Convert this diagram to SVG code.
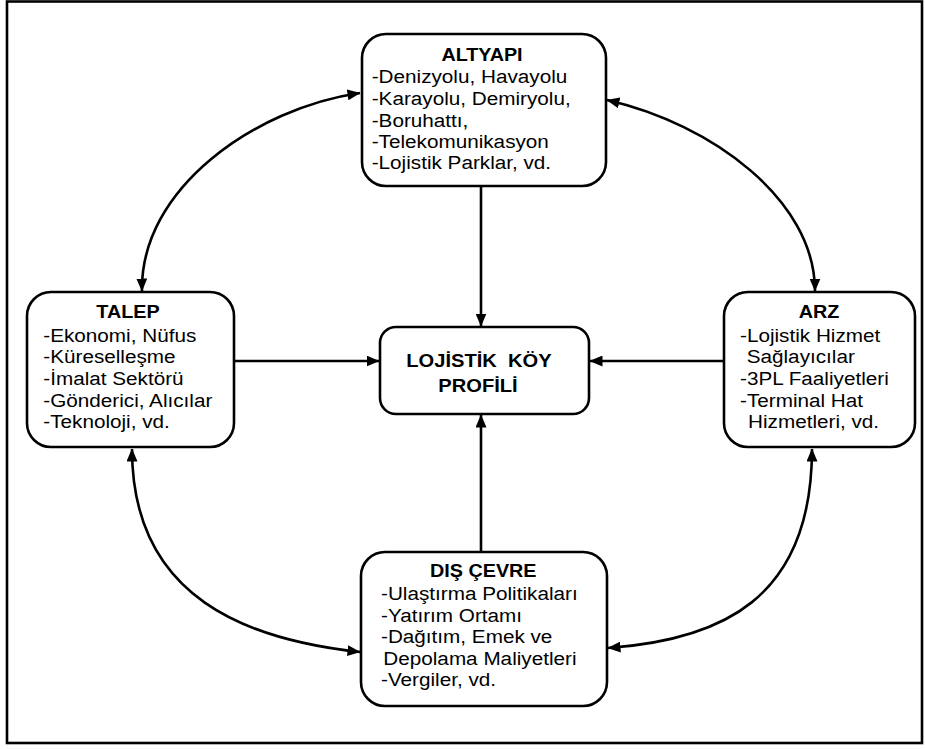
<svg xmlns="http://www.w3.org/2000/svg" width="925" height="749" viewBox="0 0 925 749">
  <defs>
    <marker id="arrow" markerUnits="userSpaceOnUse" markerWidth="13" markerHeight="11" viewBox="0 0 13 11" refX="12.5" refY="5.5" orient="auto-start-reverse">
      <path d="M0,0 L13,5.5 L0,11 z" fill="#000"/>
    </marker>
    <style>
      .box { fill: #fff; stroke: #000; stroke-width: 2.6; }
      .frame { fill: #fff; stroke: #000; stroke-width: 2.6; }
      .link { fill: none; stroke: #000; stroke-width: 2.6; }
      text { font-family: "Liberation Sans", Arial, sans-serif; fill: #000; }
      .t { font-size: 19px; font-weight: bold; text-anchor: middle; }
      .l { font-size: 19px; }
      .c { font-size: 19px; font-weight: bold; text-anchor: middle; }
    </style>
  </defs>

  <!-- page frame -->
  <rect class="frame" x="7" y="1.5" width="915" height="741.5"/>

  <!-- connectors -->
  <g id="connectors">
    <path class="link" d="M481,186 L481,326" marker-end="url(#arrow)"/>
    <path class="link" d="M481,552 L481,415" marker-end="url(#arrow)"/>
    <path class="link" d="M234,361 L379,361" marker-end="url(#arrow)"/>
    <path class="link" d="M724,361 L590,361" marker-end="url(#arrow)"/>
    <path class="link" d="M142,291 C140,188 256,108 360,93" marker-start="url(#arrow)" marker-end="url(#arrow)"/>
    <path class="link" d="M607,100 C712,124 815,200 815,291" marker-start="url(#arrow)" marker-end="url(#arrow)"/>
    <path class="link" d="M132,449 C132,600 250,640 360,652" marker-start="url(#arrow)" marker-end="url(#arrow)"/>
    <path class="link" d="M812,449 C812,600 720,640 608,648" marker-start="url(#arrow)" marker-end="url(#arrow)"/>
  </g>

  <!-- ALTYAPI -->
  <g id="altyapi">
    <rect class="box" x="362" y="34" width="244" height="152" rx="24"/>
    <text class="t" transform="matrix(1.04 0 0 1 482 60.7)">ALTYAPI</text>
    <text class="l" transform="matrix(1.09 0 0 1 371.7 83.3)">-Denizyolu, Havayolu</text>
    <text class="l" transform="matrix(1.09 0 0 1 371.7 105)">-Karayolu, Demiryolu,</text>
    <text class="l" transform="matrix(1.09 0 0 1 371.7 126.7)">-Boruhattı,</text>
    <text class="l" transform="matrix(1.09 0 0 1 371.7 148.3)">-Telekomunikasyon</text>
    <text class="l" transform="matrix(1.09 0 0 1 371.7 169.3)">-Lojistik Parklar, vd.</text>
  </g>

  <!-- TALEP -->
  <g id="talep">
    <rect class="box" x="27" y="292" width="207" height="155" rx="24"/>
    <text class="t" transform="matrix(1.04 0 0 1 128 318.3)">TALEP</text>
    <text class="l" transform="matrix(1.09 0 0 1 43.3 341.7)">-Ekonomi, Nüfus</text>
    <text class="l" transform="matrix(1.09 0 0 1 43.3 363.3)">-Küreselleşme</text>
    <text class="l" transform="matrix(1.09 0 0 1 43.3 385)">-İmalat Sektörü</text>
    <text class="l" transform="matrix(1.09 0 0 1 43.3 406.7)">-Gönderici, Alıcılar</text>
    <text class="l" transform="matrix(1.09 0 0 1 43.3 428.3)">-Teknoloji, vd.</text>
  </g>

  <!-- LOJİSTİK KÖY PROFİLİ -->
  <g id="profil">
    <rect class="box" x="380" y="327" width="209" height="87" rx="16"/>
    <text class="c" xml:space="preserve" transform="matrix(1.06 0 0 1 479 366.7)">LOJİSTİK  KÖY</text>
    <text class="c" transform="matrix(1.06 0 0 1 478 391.7)">PROFİLİ</text>
  </g>

  <!-- ARZ -->
  <g id="arz">
    <rect class="box" x="724" y="292" width="191" height="155" rx="24"/>
    <text class="t" transform="matrix(1.04 0 0 1 819 318.3)">ARZ</text>
    <text class="l" transform="matrix(1.09 0 0 1 740 341.7)">-Lojistik Hizmet</text>
    <text class="l" transform="matrix(1.09 0 0 1 746.7 363.3)">Sağlayıcılar</text>
    <text class="l" transform="matrix(1.09 0 0 1 740 385)">-3PL Faaliyetleri</text>
    <text class="l" transform="matrix(1.09 0 0 1 740 406.7)">-Terminal Hat</text>
    <text class="l" transform="matrix(1.09 0 0 1 748 428.3)">Hizmetleri, vd.</text>
  </g>

  <!-- DIŞ ÇEVRE -->
  <g id="dis-cevre">
    <rect class="box" x="361" y="552" width="246" height="154" rx="24"/>
    <text class="t" transform="matrix(1.04 0 0 1 483.3 576.7)">DIŞ ÇEVRE</text>
    <text class="l" transform="matrix(1.09 0 0 1 381 600)">-Ulaştırma Politikaları</text>
    <text class="l" transform="matrix(1.09 0 0 1 381 621.7)">-Yatırım Ortamı</text>
    <text class="l" transform="matrix(1.09 0 0 1 381 643.3)">-Dağıtım, Emek ve</text>
    <text class="l" transform="matrix(1.09 0 0 1 383.3 665)">Depolama Maliyetleri</text>
    <text class="l" transform="matrix(1.09 0 0 1 381 686)">-Vergiler, vd.</text>
  </g>
</svg>
